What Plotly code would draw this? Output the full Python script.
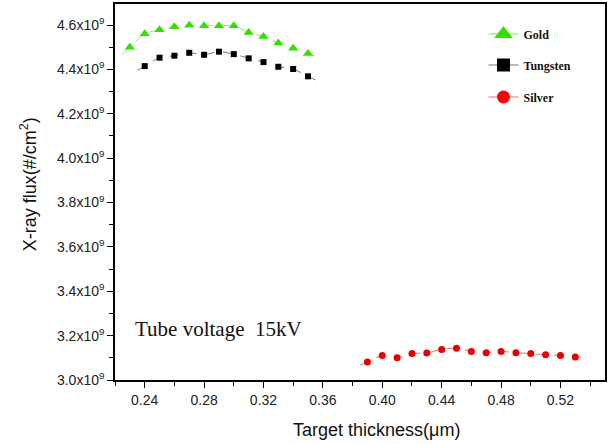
import plotly.graph_objects as go

# ---- data (flux in units of 1e9 #/cm^2) ----
gold_x = [0.23, 0.24, 0.25, 0.26, 0.27, 0.28, 0.29, 0.30, 0.31, 0.32, 0.33, 0.34, 0.35]
gold_y = [4.500, 4.561, 4.579, 4.593, 4.599, 4.597, 4.597, 4.597, 4.566, 4.549, 4.519, 4.495, 4.472]

tungsten_x = [0.24, 0.25, 0.26, 0.27, 0.28, 0.29, 0.30, 0.31, 0.32, 0.33, 0.34, 0.35]
tungsten_y = [4.415, 4.453, 4.462, 4.475, 4.466, 4.480, 4.469, 4.450, 4.433, 4.412, 4.402, 4.369]

silver_x = [0.39, 0.40, 0.41, 0.42, 0.43, 0.44, 0.45, 0.46, 0.47, 0.48, 0.49, 0.50, 0.51, 0.52, 0.53]
silver_y = [3.081, 3.110, 3.100, 3.119, 3.122, 3.138, 3.143, 3.129, 3.123, 3.129, 3.123, 3.119, 3.114, 3.110, 3.104]

y_ticks = [3.0, 3.2, 3.4, 3.6, 3.8, 4.0, 4.2, 4.4, 4.6]
y_tick_labels = ["%.1fx10<sup>9</sup>" % v for v in y_ticks]
x_ticks = [0.24, 0.28, 0.32, 0.36, 0.40, 0.44, 0.48, 0.52]
x_tick_labels = ["%.2f" % v for v in x_ticks]

SCALE = 1e9


def extend(xs, ys, frac=0.5):
    """Extend the fitted curve half a step past each end (linear continuation)."""
    x0 = xs[0] - (xs[1] - xs[0]) * frac
    y0 = ys[0] - (ys[1] - ys[0]) * frac
    x1 = xs[-1] + (xs[-1] - xs[-2]) * frac
    y1 = ys[-1] + (ys[-1] - ys[-2]) * frac
    return [x0] + list(xs) + [x1], [y0] + list(ys) + [y1]


series = [
    ("Gold", gold_x, gold_y, "#33e000", "#88ee66", "triangle-up", 9, 16, "legend"),
    ("Tungsten", tungsten_x, tungsten_y, "#000000", "#777777", "square", 6, 13, "legend2"),
    ("Silver", silver_x, silver_y, "#e80000", "#f07070", "circle", 7, 13, "legend3"),
]

fig = go.Figure()
for name, xs, ys, mcol, lcol, sym, msz, lsz, leg in series:
    ex, ey = extend(xs, ys)
    fig.add_trace(go.Scatter(
        x=ex, y=[v * SCALE for v in ey], mode="lines",
        line=dict(color=lcol, width=1, shape="spline", smoothing=0.8, dash="dash"),
        showlegend=False, hoverinfo="skip"))
    fig.add_trace(go.Scatter(
        x=xs, y=[v * SCALE for v in ys], mode="markers",
        marker=dict(symbol=sym, size=msz, color=mcol),
        showlegend=False, name=name))
    # legend-only entry (larger symbol as in the original legend)
    fig.add_trace(go.Scatter(
        x=[None], y=[None], mode="lines+markers", name=name,
        line=dict(color=lcol if name != "Gold" else "#66ff44", width=1.2),
        marker=dict(symbol=sym, size=lsz, color=mcol if name != "Silver" else "#ff0000"),
        legend=leg))

leg_common = dict(
    x=0.752, xanchor="left", yanchor="middle",
    bgcolor="rgba(0,0,0,0)", borderwidth=0,
    font=dict(family="Liberation Serif", size=12, color="#111111", weight="bold"),
)
fig.update_layout(
    width=608, height=444,
    margin=dict(l=115, r=1, t=4, b=64),
    paper_bgcolor="white", plot_bgcolor="white",
    showlegend=True,
    legend=dict(y=(380 - 34) / 376, **leg_common),
    legend2=dict(y=(380 - 65) / 376, **leg_common),
    legend3=dict(y=(380 - 97) / 376, **leg_common),
    font=dict(family="Liberation Sans, Arial", color="#222222"),
)

fig.update_xaxes(
    range=[0.22, 0.55], showgrid=False, zeroline=False,
    showline=True, linecolor="black", linewidth=1.5, mirror=True,
    ticks="outside", ticklen=6, tickwidth=1.2, tickcolor="black",
    tickvals=x_ticks, ticktext=x_tick_labels,
    tickfont=dict(family="Liberation Sans, Arial", size=14, color="#222222"),
    minor=dict(dtick=0.02, tick0=0.22, ticks="outside", ticklen=4, tickwidth=1.2, tickcolor="black"),
)
fig.update_yaxes(
    range=[3.0 * SCALE, 4.695 * SCALE], showgrid=False, zeroline=False,
    showline=True, linecolor="black", linewidth=1.5, mirror=True,
    ticks="outside", ticklen=6, tickwidth=1.2, tickcolor="black",
    tickvals=[v * SCALE for v in y_ticks], ticktext=y_tick_labels,
    tickfont=dict(family="Liberation Sans, Arial", size=14, color="#222222"),
    minor=dict(dtick=0.1 * SCALE, tick0=3.0 * SCALE, ticks="outside", ticklen=4, tickwidth=1.2, tickcolor="black"),
)

fig.add_annotation(
    text="Target thickness(μm)", xref="paper", yref="paper",
    x=(378 - 115) / 492, y=-(430 - 380) / 376, xanchor="center", yanchor="middle",
    showarrow=False, font=dict(family="Liberation Sans, Arial", size=18, color="#111111"))
fig.add_annotation(
    text="X-ray flux(#/cm<sup>2</sup>)", xref="paper", yref="paper",
    x=-(115 - 28) / 492, y=(380 - 184) / 376, xanchor="center", yanchor="middle",
    textangle=-90, showarrow=False,
    font=dict(family="Liberation Sans, Arial", size=18, color="#111111"))
fig.add_annotation(
    text="Tube voltage&nbsp;&nbsp;15kV", xref="paper", yref="paper",
    x=(133 - 115) / 492, y=(380 - 329) / 376, xanchor="left", yanchor="middle",
    showarrow=False, font=dict(family="Liberation Serif", size=21, color="#111111"))

fig.write_html(
    "out.html",
    config={"displayModeBar": False},
    post_script="document.body.style.margin='0px';document.body.style.overflow='hidden';",
)
